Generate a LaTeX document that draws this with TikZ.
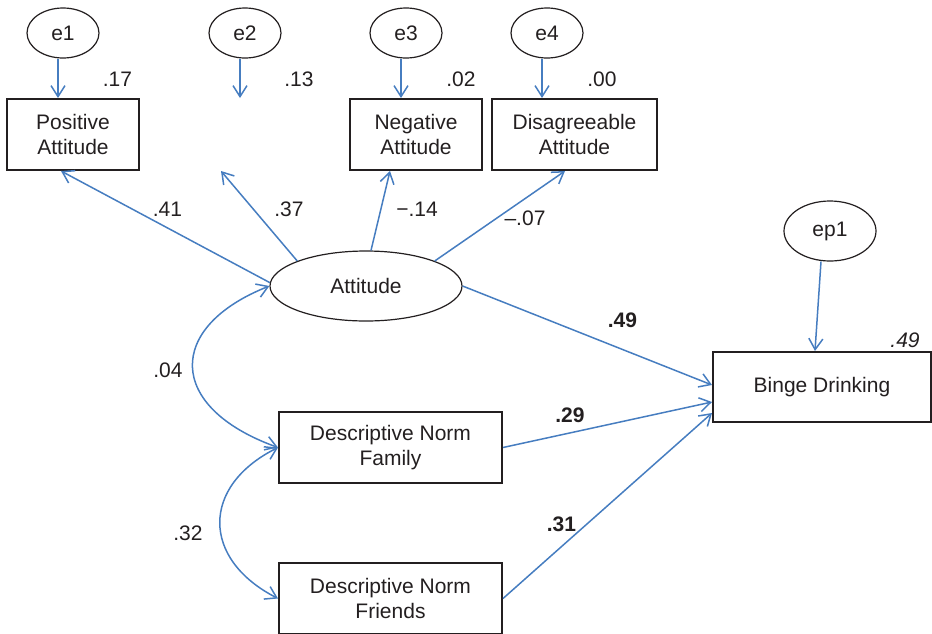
\documentclass[tikz,border=0pt]{standalone}
\usepackage{fontspec}
\setmainfont{Liberation Sans}
\usepackage{xcolor}
\usetikzlibrary{arrows.meta,shapes.geometric}
\definecolor{pathblue}{RGB}{70,125,192}
\definecolor{ink}{RGB}{35,31,32}

\begin{document}
\begin{tikzpicture}[x=0.5pt,y=-0.5pt,font=\fontsize{10.5}{12.5}\selectfont,text=ink,
  box/.style={draw=ink,line width=1pt,align=center,inner sep=0pt,minimum height=35.5pt},
  err/.style={draw=ink,ellipse,line width=0.6pt,inner sep=0pt,minimum width=36pt,minimum height=25pt},
  arr/.style={pathblue,line width=0.75pt,-{Straight Barb[length=5.5pt,width=7pt]}},
  cov/.style={arr,{Straight Barb[length=5.5pt,width=7pt]}-{Straight Barb[length=5.5pt,width=7pt]}}]
\useasboundingbox (0,0) rectangle (932,633);

\node [err] (e1) at (63,33) {e1};
\node [err] (e2) at (245,33) {e2};
\node [err] (e3) at (406,33) {e3};
\node [err] (e4) at (547,33) {e4};
\node [err,minimum width=46pt,minimum height=30pt] (ep1) at (830,231) {ep1};

\node [box,minimum width=66pt] (pa) at (73,134.5) {Positive\\Attitude};
\node [box,draw=none,minimum width=66pt] (pa2) at (240,134.5) {};
\node [box,minimum width=66pt] (na) at (416,134.5) {Negative\\Attitude};
\node [box,minimum width=82.5pt] (da) at (574.5,134.5) {Disagreeable\\Attitude};

\node [err,minimum width=96pt,minimum height=35pt] (att) at (366,286) {Attitude};
\node [box,minimum width=109pt,minimum height=35pt] (bd) at (822,387) {Binge Drinking};
\node [box,minimum width=111.5pt] (fam) at (390.5,447.5) {Descriptive Norm\\Family};
\node [box,minimum width=111.5pt] (fri) at (390.5,598.5) {Descriptive Norm\\Friends};

\foreach \i/\b in {1/pa,2/pa2,3/na,4/da}
\draw [arr] ([xshift=-2.5pt]e\i.south) -- ([xshift=-2.5pt]e\i.south |- \b.north);
\draw [arr] ([xshift=-4.5pt]ep1.south) -- ([xshift=-3.5pt]bd.north);

\draw [arr] (att.178) -- ([xshift=-6pt]pa.south);
\draw [arr] (att.160) -- ([xshift=-9.5pt]pa2.south);
\draw [arr] (att.82) -- ([xshift=-13pt]na.south);
\draw [arr] (att.20) -- ([xshift=-4.75pt]da.south);
\draw [arr] (att.east) -- ([yshift=1pt]bd.west);
\draw [arr] (fam.east) -- ([yshift=-7.5pt]bd.west);
\draw [arr] (fri.east) -- ([yshift=-13pt]bd.west);

\draw [cov] (att.west) .. controls (166,327) and (166,407) .. (fam.west);
\draw [cov] (fam.west) .. controls (201,486) and (201,559) .. (fri.west);

\foreach \t/\x/\y/\n in {.17/117.5/79/r1,.13/299/79/r2,.02/461/79/r3,.00/602/79/r4,
  .41/167.5/209.5/w1,.37/289/209.5/w2,−.14/417/209.5/w3,–.07/525/218/w4,
  .04/168/370.5/c1,.32/188/533.5/c2}
\node (\n) at (\x,\y) {\t};
\node (b1) at (622.5,320.5) {\textbf{.49}};
\node (b2) at (570,415.5) {\textbf{.29}};
\node (b3) at (561.5,524) {\textbf{.31}};
\node (rb) at (905,340) {\textit{.49}};
\end{tikzpicture}
\end{document}
